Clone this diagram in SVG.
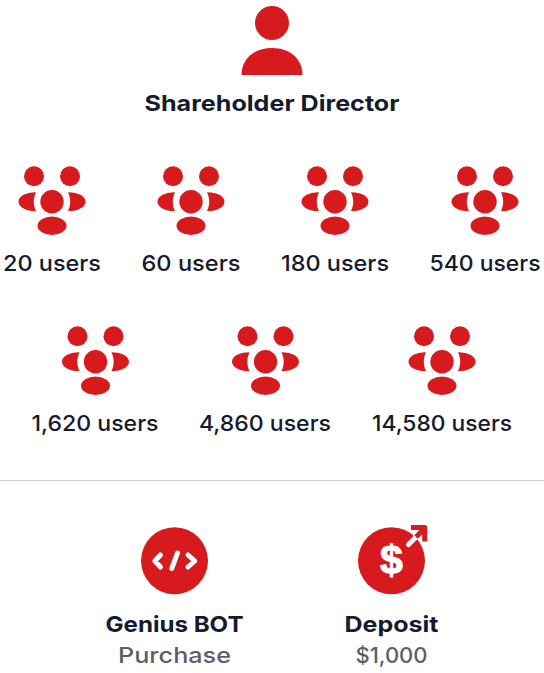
<svg xmlns="http://www.w3.org/2000/svg" width="544" height="673" viewBox="0 0 544 673">
<style>
.r{fill:#d71a1e}
text{font-family:"Inter","Liberation Sans",sans-serif;text-anchor:middle;fill:#151b2e}
.u{font-size:22px;font-weight:500}
.b{font-size:22px;font-weight:700}
.g{font-size:22px;font-weight:500;fill:#5c5f69}
.w{fill:none;stroke:#fff;stroke-linecap:round;stroke-linejoin:round}
</style>
<defs>
<g id="group" class="r">
<circle cx="-18" cy="-25.500" r="10"/>
<circle cx="18" cy="-25.500" r="10"/>
<circle cx="0" cy="0" r="11.700"/>
<ellipse cx="0" cy="24" rx="14.500" ry="9.200"/>
<path d="M-16-9.400C-27-9.400-33.500-5-33.500 0S-27 9.400-16 9.400C-17.500 6-18.200 3-18.200 0S-17.500-6-16-9.400Z"/>
<path d="M16-9.400C27-9.400 33.500-5 33.500 0S27 9.400 16 9.400C17.500 6 18.200 3 18.200 0S17.500-6 16-9.400Z"/>
</g>
</defs>
<g id="director">
<circle class="r" cx="272" cy="23" r="17"/>
<path class="r" d="M241.500 75C241.500 59 254 48 272 48S302.500 59 302.500 75Z"/>
<text class="b" x="272" y="111" textLength="255" lengthAdjust="spacingAndGlyphs">Shareholder Director</text>
</g>
<g id="level1"><use href="#group" x="52" y="201.700"/><text class="u" x="52" y="271" textLength="98" lengthAdjust="spacingAndGlyphs">20 users</text></g>
<g id="level2"><use href="#group" x="191" y="201.700"/><text class="u" x="191" y="271" textLength="99" lengthAdjust="spacingAndGlyphs">60 users</text></g>
<g id="level3"><use href="#group" x="335" y="201.700"/><text class="u" x="335" y="271" textLength="108" lengthAdjust="spacingAndGlyphs">180 users</text></g>
<g id="level4"><use href="#group" x="485" y="201.700"/><text class="u" x="485" y="271" textLength="111" lengthAdjust="spacingAndGlyphs">540 users</text></g>
<g id="level5"><use href="#group" x="95.500" y="361.700"/><text class="u" x="95" y="431" textLength="127" lengthAdjust="spacingAndGlyphs">1,620 users</text></g>
<g id="level6"><use href="#group" x="265.500" y="361.700"/><text class="u" x="265" y="431" textLength="132" lengthAdjust="spacingAndGlyphs">4,860 users</text></g>
<g id="level7"><use href="#group" x="442" y="361.700"/><text class="u" x="442" y="431" textLength="140" lengthAdjust="spacingAndGlyphs">14,580 users</text></g>
<g id="connectors"><line x1="0" y1="480.500" x2="544" y2="480.500" stroke="#c9cedd" stroke-width="1"/></g>
<g id="bot">
<circle class="r" cx="174.500" cy="560.700" r="33.500"/>
<path class="w" stroke-width="5" d="M160.500 555L154.800 561L160.500 567M188 555L194.800 561L188 567M177.500 553L171.800 568.300"/>
<text class="b" x="174.500" y="632" textLength="138" lengthAdjust="spacingAndGlyphs">Genius BOT</text>
<text class="g" x="174.500" y="663" textLength="113" lengthAdjust="spacingAndGlyphs">Purchase</text>
</g>
<g id="deposit">
<circle class="r" cx="391.500" cy="560.700" r="33.500"/>
<text x="391.500" y="574" style="font-size:41px;font-weight:700;fill:#fff;stroke:#fff;stroke-width:1;font-family:'Liberation Sans',sans-serif">$</text>
<path d="M408.500 544.500L416 537" fill="none" stroke="#fff" stroke-width="5" stroke-linecap="round"/>
<path d="M416 537L424 529" fill="none" stroke="#d71a1e" stroke-width="5"/>
<path d="M411 527.500H424.700V541.500" fill="none" stroke="#d71a1e" stroke-width="5" stroke-linejoin="round"/>
<text class="b" x="391.500" y="632" textLength="94" lengthAdjust="spacingAndGlyphs">Deposit</text>
<text class="g" x="391.500" y="663" textLength="72" lengthAdjust="spacingAndGlyphs">$1,000</text>
</g>
</svg>
